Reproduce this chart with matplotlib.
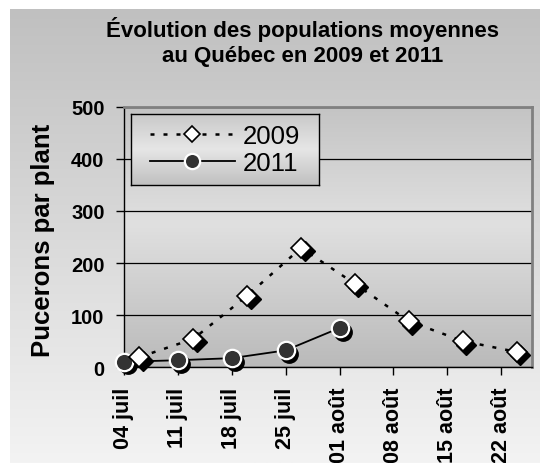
import matplotlib
matplotlib.use('Agg')
import matplotlib.pyplot as plt
import numpy as np
import pandas as pd
from matplotlib.transforms import offset_copy
from matplotlib.lines import Line2D

plt.rcParams['font.family'] = ['Liberation Sans', 'DejaVu Sans']

# ---- data ----
dates_2009 = ['2011-07-06', '2011-07-13', '2011-07-20', '2011-07-27',
              '2011-08-03', '2011-08-10', '2011-08-17', '2011-08-24']
values_2009 = [19, 54, 137, 229, 160, 88, 50, 29]
dates_2011 = ['2011-07-04', '2011-07-11', '2011-07-18', '2011-07-25', '2011-08-01']
values_2011 = [10, 13, 17, 32, 75]
tick_dates = ['2011-07-04', '2011-07-11', '2011-07-18', '2011-07-25',
              '2011-08-01', '2011-08-08', '2011-08-15', '2011-08-22']
tick_labels = ['04 juil', '11 juil', '18 juil', '25 juil',
               '01 août', '08 août', '15 août', '22 août']
y_ticks = [0, 100, 200, 300, 400, 500]
x_range = ['2011-07-04', '2011-08-26']

d09 = pd.to_datetime(dates_2009)
d11 = pd.to_datetime(dates_2011)
dt = pd.to_datetime(tick_dates)
xr = pd.to_datetime(x_range)

W, H = 540, 464
fig = plt.figure(figsize=(W / 100, H / 100), dpi=100)
fig.patch.set_facecolor('white')

# outer gradient background
bg = fig.add_axes([0, 0, 1, 1], zorder=-5)
bg.set_xlim(0, W)
bg.set_ylim(H, 0)
bg.axis('off')
g = np.linspace(192, 243, 256) / 255
img = np.repeat(g[:, None, None], 3, axis=2)
bg.imshow(img, extent=[10, W, H, 10], aspect='auto', interpolation='bilinear')


def center_grad(top, peak, bottom, tpeak=0.45, n=256):
    t = np.linspace(0, 1, n)
    v = np.where(t < tpeak, top + (peak - top) * t / tpeak,
                 peak + (bottom - peak) * (t - tpeak) / (1 - tpeak))
    v = v / 255
    return np.repeat(v[:, None, None], 3, axis=2)


# plot axes
ax = fig.add_axes([124 / W, 1 - 368 / H, 408 / W, 260 / H], zorder=1)
ax.imshow(center_grad(196, 224, 186), extent=[0, 1, 0, 1], transform=ax.transAxes,
          aspect='auto', zorder=0, interpolation='bilinear')
ax.set_axisbelow(True)
ax.yaxis.grid(True, color='black', lw=0.9)

sh = offset_copy(ax.transData, fig=fig, x=3.5, y=-3.5, units='dots')

# 2011 series
ax.plot(d11, values_2011, 'o', ms=12.5, color='black', transform=sh, clip_on=False, zorder=3)
ax.plot(d11, values_2011, '-', color='black', lw=1.3, marker='o', ms=12.5,
        mfc='#333333', mec='white', mew=1.6, clip_on=False, zorder=4)

# 2009 series
ax.plot(d09, values_2009, 'D', ms=10, color='black', transform=sh, clip_on=False, zorder=5)
ax.plot(d09, values_2009, color='black', lw=1.8, ls=(0, (1.6, 3.6)), marker='D', ms=10,
        mfc='white', mec='black', mew=1.2, clip_on=False, zorder=6)

ax.set_xlim(xr[0], xr[1])
ax.set_ylim(0, 500)
ax.set_yticks(y_ticks)
ax.set_yticklabels([str(v) for v in y_ticks], fontsize=14.5, fontweight='bold')
ax.set_xticks(dt)
ax.set_xticklabels(tick_labels, rotation=90, fontsize=15.5, fontweight='bold')
ax.tick_params(axis='y', direction='out', length=6, width=1, pad=8)
ax.tick_params(axis='x', direction='out', length=6, width=1, pad=8)
for s in ['left', 'bottom']:
    ax.spines[s].set_color('black')
    ax.spines[s].set_linewidth(1)
for s in ['top', 'right']:
    ax.spines[s].set_color('#808080')
    ax.spines[s].set_linewidth(2)

# legend box
lax = fig.add_axes([131 / W, 1 - 186 / H, 188 / W, 71 / H], zorder=3)
lax.imshow(center_grad(200, 230, 192, tpeak=0.5), extent=[0, 1, 0, 1],
           transform=lax.transAxes, aspect='auto', interpolation='bilinear')
lax.set_xlim(0, 1)
lax.set_ylim(0, 1)
lax.set_xticks([])
lax.set_yticks([])
for s in lax.spines.values():
    s.set_color('black')
    s.set_linewidth(1)
handles = [
    Line2D([], [], color='black', lw=1.8, ls=(0, (1.6, 3.6)), marker='D', ms=8.5,
           mfc='white', mec='black', mew=1.2),
    Line2D([], [], color='black', lw=1.3, marker='o', ms=11,
           mfc='#333333', mec='white', mew=1.6),
]
lax.legend(handles, ['2009', '2011'], loc='center', frameon=False, fontsize=18.5,
           handlelength=3.3, handletextpad=0.3, labelspacing=0.12, borderpad=0)

# titles
fig.text(303 / W, 1 - 37 / H, 'Évolution des populations moyennes', ha='center',
         va='baseline', fontsize=16, fontweight='bold')
fig.text(303 / W, 1 - 62 / H, 'au Québec en 2009 et 2011', ha='center',
         va='baseline', fontsize=16, fontweight='bold')
fig.text(43 / W, 1 - 240 / H, 'Pucerons par plant', rotation=90, ha='center',
         va='center', fontsize=18.5, fontweight='bold')

fig.savefig('out.png', dpi=100)
